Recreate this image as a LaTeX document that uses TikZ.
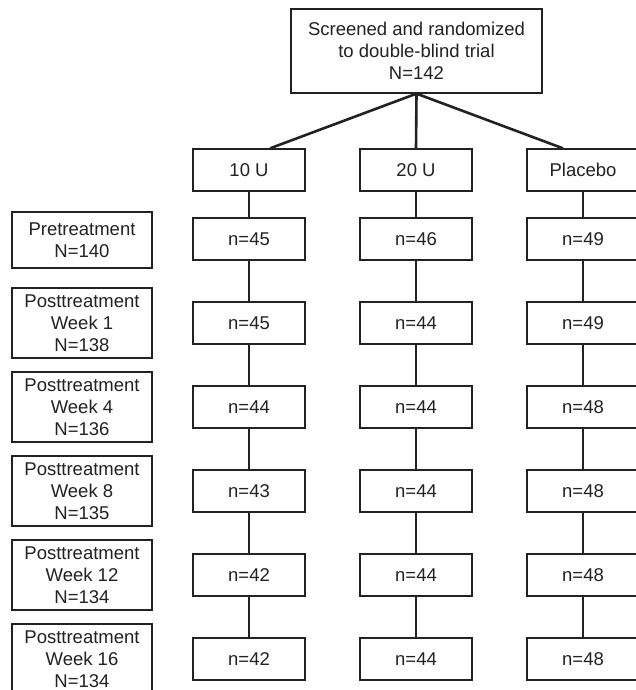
\documentclass[tikz,border=0pt]{standalone}
\usepackage{fontspec}
\setmainfont{Liberation Sans}
\definecolor{ink}{HTML}{222222}
\tikzset{
  box/.style={draw=ink, line width=1.3pt, fill=white, inner sep=0pt, align=center, text=ink,
    font=\fontsize{18.5}{21.8}\selectfont},
  armbox/.style={box, minimum width=112pt, minimum height=42pt},
  leftbox/.style={box, minimum width=140pt, minimum height=70pt},
  link/.style={draw=ink, line width=2.6pt}
}
\begin{document}
\begin{tikzpicture}[x=1pt,y=-1pt]
\useasboundingbox (0,0) rectangle (636,690);
\clip (0,0) rectangle (636,690);
\node[box, minimum width=251pt, minimum height=84pt] (top) at (416.5,51) {Screened and randomized\\to double-blind trial\\N=142};
\node[armbox] (a1) at (249,170) {10 U};
\node[armbox] (a2) at (416,170) {20 U};
\node[armbox] (a3) at (583,170) {Placebo};
% rows
\foreach \r/\y/\na/\nb/\nc in {1/239/45/46/49, 2/323/45/44/49, 3/407/44/44/48, 4/491/43/44/48, 5/575/42/44/48, 6/659/42/44/48}{
  \node[armbox] (r\r c1) at (249,\y) {n=\na};
  \node[armbox] (r\r c2) at (416,\y) {n=\nb};
  \node[armbox] (r\r c3) at (583,\y) {n=\nc};
}
\node[box, minimum width=140pt, minimum height=56pt] (L1) at (82,240) {Pretreatment\\N=140};
\node[leftbox] (L2) at (82,323) {Posttreatment\\Week 1\\N=138};
\node[leftbox] (L3) at (82,407) {Posttreatment\\Week 4\\N=136};
\node[leftbox] (L4) at (82,491) {Posttreatment\\Week 8\\N=135};
\node[leftbox] (L5) at (82,575) {Posttreatment\\Week 12\\N=134};
\node[leftbox] (L6) at (82,659) {Posttreatment\\Week 16\\N=134};
% connectors
\draw[link] (top.south) -- ([xshift=21pt]a1.north);
\draw[link] (top.south) -- (a2.north);
\draw[link] (top.south) -- ([xshift=-20pt]a3.north);
\foreach \c in {1,2,3}{
  \draw[link] (a\c.south) -- (r1c\c.north);
  \draw[link] (r1c\c.south) -- (r2c\c.north);
  \draw[link] (r2c\c.south) -- (r3c\c.north);
  \draw[link] (r3c\c.south) -- (r4c\c.north);
  \draw[link] (r4c\c.south) -- (r5c\c.north);
  \draw[link] (r5c\c.south) -- (r6c\c.north);
}
\end{tikzpicture}
\end{document}
